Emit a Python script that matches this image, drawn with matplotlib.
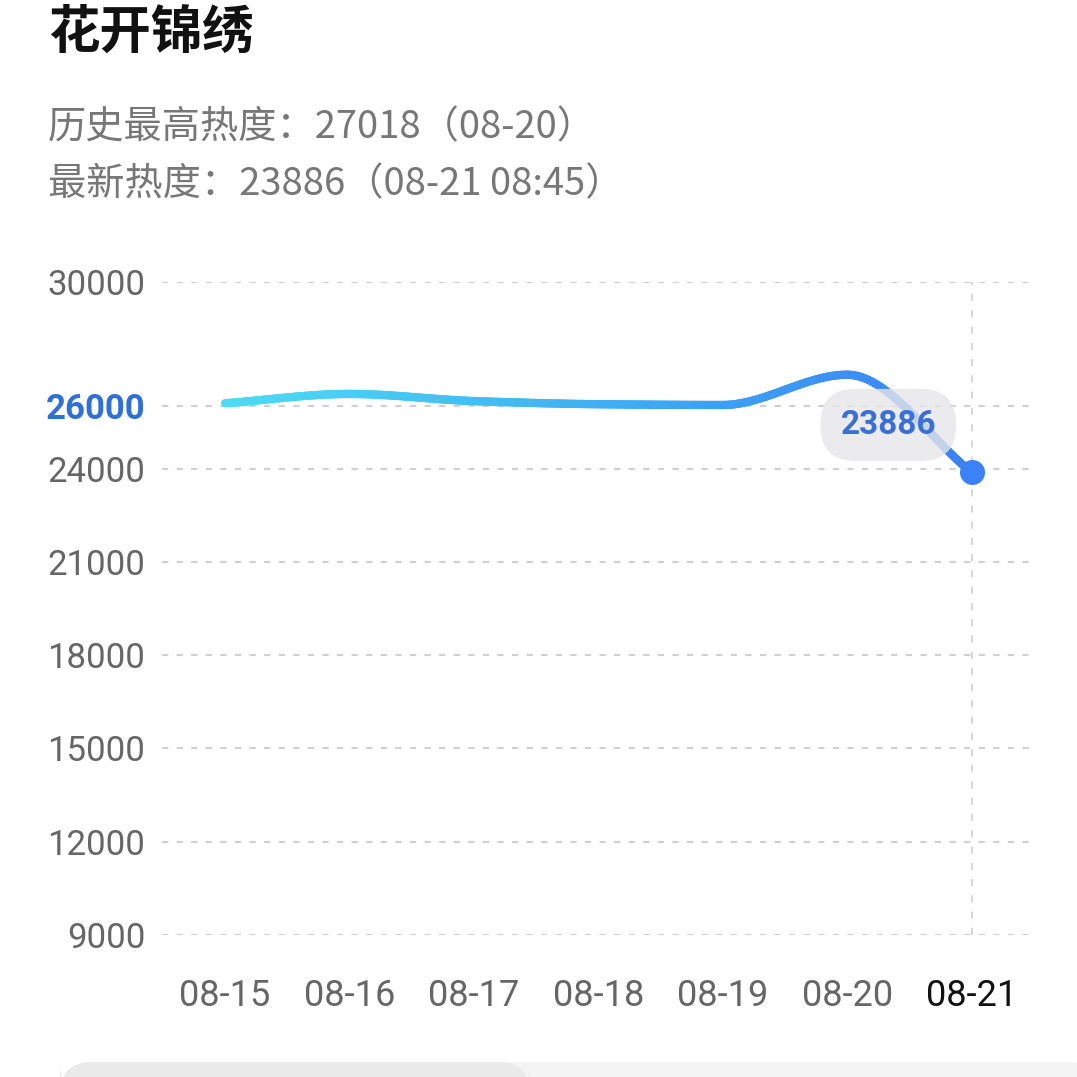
import numpy as np
import matplotlib
matplotlib.use("Agg")  # no display
import matplotlib.pyplot as plt
from matplotlib.collections import LineCollection
from matplotlib.colors import LinearSegmentedColormap
from matplotlib.patches import FancyBboxPatch

plt.rcParams['font.family'] = ['Noto Sans CJK SC', 'DejaVu Sans']

# data
dates = ['08-15', '08-16', '08-17', '08-18', '08-19', '08-20', '08-21']
heat = [26100, 26400, 26170, 26070, 26045, 27018, 23886]
y_ticks = [9000, 12000, 15000, 18000, 21000, 24000, 26000, 30000]
ref_value = 26000
title = '花开锦绣'
peak_text = '历史最高热度：27018（08-20）'
latest_text = '最新热度：23886（08-21 08:45）'

W = 1077
fig = plt.figure(figsize=(10.77, 10.77), dpi=100)
fig.patch.set_facecolor('white')
ax = fig.add_axes([162 / W, 1 - 935 / W, 868 / W, 653 / W])


def monotone_curve(x, y, n=60):
    # monotone cubic (Fritsch-Carlson), only used to draw a smooth line
    x = np.asarray(x, float)
    y = np.asarray(y, float)
    h = np.diff(x)
    d = np.diff(y) / h
    m = np.zeros_like(y)
    m[0], m[-1] = d[0], d[-1]
    for i in range(1, len(y) - 1):
        if d[i - 1] * d[i] <= 0:
            m[i] = 0
        else:
            m[i] = 3 * (h[i - 1] + h[i]) / ((2 * h[i] + h[i - 1]) / d[i - 1] + (h[i] + 2 * h[i - 1]) / d[i])
    xs, ys = [], []
    for i in range(len(h)):
        t = np.linspace(0, 1, n, endpoint=(i == len(h) - 1))
        h00 = 2 * t**3 - 3 * t**2 + 1
        h10 = t**3 - 2 * t**2 + t
        h01 = -2 * t**3 + 3 * t**2
        h11 = t**3 - t**2
        xs.append(x[i] + t * h[i])
        ys.append(h00 * y[i] + h10 * h[i] * m[i] + h01 * y[i + 1] + h11 * h[i] * m[i + 1])
    return np.concatenate(xs), np.concatenate(ys)


xi = np.arange(len(dates))
cx, cy = monotone_curve(xi, heat)
pts = np.column_stack([cx, cy]).reshape(-1, 1, 2)
segs = np.concatenate([pts[:-1], pts[1:]], axis=1)
cmap = LinearSegmentedColormap.from_list('heat', ['#4ddcf3', '#3fb0f2', '#3a80f5'])
lc = LineCollection(segs, cmap=cmap, linewidths=6, capstyle='round', zorder=3)
lc.set_array(cx[:-1] / cx.max())
lc.set_clim(0, 1)
ax.add_collection(lc)

# last point
ax.plot(xi[-1], heat[-1], 'o', color='#3b82f6', markersize=17, zorder=5)

# latest value bubble
ax.annotate(str(heat[-1]), xy=(xi[-1], heat[-1]), xytext=(-60, 34),
            textcoords='offset points', ha='center', va='center',
            fontsize=24, fontweight='bold', color='#3a6fd8', family='Roboto',
            bbox=dict(boxstyle='round,pad=0.6,rounding_size=1.05',
                      fc='#e6e6e9', ec='none', alpha=0.8), zorder=4)

# vertical guide at latest date
ax.axvline(xi[-1], color='#d4d4d4', lw=1.3, ls=(0, (4, 5)), zorder=1)

ax.set_xlim(-0.507, 6.47)
ax.set_ylim(9000, 30000)
ax.set_yticks(y_ticks)
ax.set_yticklabels([str(v) for v in y_ticks], family='Roboto', fontsize=25, color='#666666')
for lab, v in zip(ax.get_yticklabels(), y_ticks):
    if v == ref_value:
        lab.set_color('#2f6fd8')
        lab.set_fontweight('bold')
ax.set_xticks(xi)
ax.set_xticklabels(dates, family='Roboto', fontsize=26, color='#666666')
ax.get_xticklabels()[-1].set_color('#111111')
ax.tick_params(axis='y', length=0, pad=12)
ax.tick_params(axis='x', length=0, pad=31)
ax.grid(axis='y', color='#d0d0d0', lw=1.5, ls=(0, (3, 4)), zorder=0)
ax.grid(axis='x', visible=False)
for s in ax.spines.values():
    s.set_visible(False)

# header texts
fig.text(48 / W, 1 - 32 / W, title, fontsize=37, fontweight='bold', color='#111111',
         ha='left', va='center')
fig.text(48 / W, 1 - 128 / W, peak_text, fontsize=27.5, color='#777777', ha='left', va='center')
fig.text(48 / W, 1 - 185 / W, latest_text, fontsize=27.5, color='#777777', ha='left', va='center')

# bottom tab strip
fig.patches.append(FancyBboxPatch((60 / W, -20 / W), 1040 / W, 35 / W,
                                  boxstyle='round,pad=0,rounding_size=0.03',
                                  transform=fig.transFigure, fc='#f4f4f4', ec='none'))
fig.patches.append(FancyBboxPatch((60 / W, -20 / W), 470 / W, 35 / W,
                                  boxstyle='round,pad=0,rounding_size=0.03',
                                  transform=fig.transFigure, fc='#eaeaea', ec='none'))

plt.savefig('out.png', dpi=100)
